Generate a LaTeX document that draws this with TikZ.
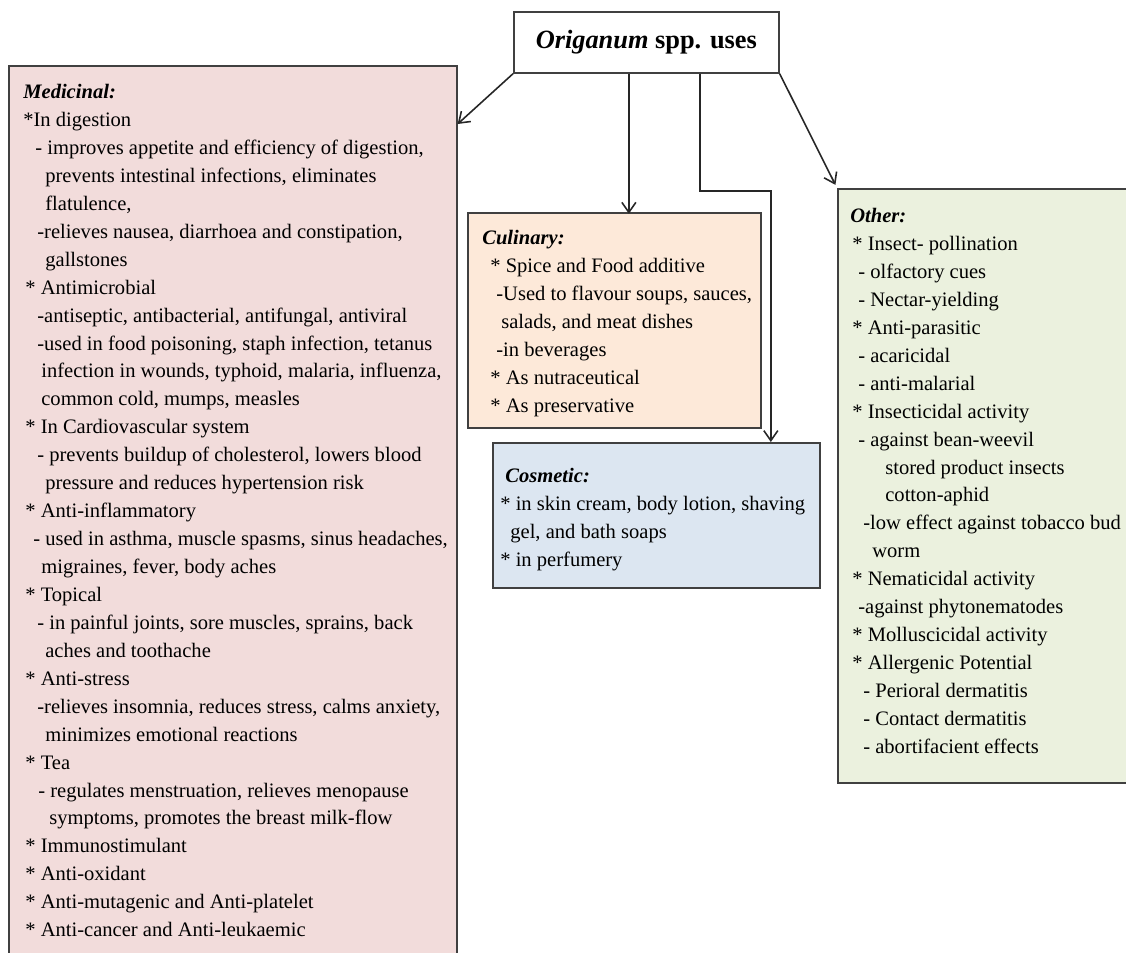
\documentclass[tikz,border=0pt]{standalone}
\usepackage{fontspec}
\setmainfont{Liberation Serif}
\usepackage{xcolor}
\usetikzlibrary{arrows.meta,positioning}
\definecolor{medfill}{HTML}{F2DCDB}
\definecolor{culfill}{HTML}{FDE9D9}
\definecolor{cosfill}{HTML}{DCE6F1}
\definecolor{othfill}{HTML}{EBF1DE}
\newlength\pxl
\setlength\pxl{0.02cm}
\newcommand{\ind}[1]{\hspace*{#1\pxl}}
\tikzset{
  basic/.style  = {draw=black!75, line width=1pt, rectangle, anchor=north west, inner sep=0pt},
  rootbox/.style = {basic, fill=white, font=\fontsize{15}{18}\selectfont\bfseries},
  medbox/.style = {basic, fill=medfill},
  culbox/.style = {basic, fill=culfill},
  cosbox/.style = {basic, fill=cosfill},
  othbox/.style = {basic, fill=othfill},
  txt/.style    = {anchor=north west, inner sep=0pt, align=left,
                   font=\fontsize{11.7}{15.9}\selectfont},
  arr/.style    = {->, draw=black!85, line width=0.9pt}
}

\begin{document}
\begin{tikzpicture}[x=0.02cm, y=-0.02cm,
  >={Straight Barb[length=2mm,width=2.8mm]}]
\useasboundingbox (0,0) rectangle (1126,953);

% root and the four boxes
\node[rootbox, minimum width=5.3cm, minimum height=1.22cm] (title) at (513,11)
  {\textit{Origanum} spp. uses};
\node[medbox, minimum width=8.96cm, minimum height=18.2cm] (med) at (8,65) {};
\node[culbox, minimum width=5.86cm, minimum height=4.3cm] (cul) at (467,212) {};
\node[cosbox, minimum width=6.54cm, minimum height=2.9cm] (cos) at (492,442) {};
\node[othbox, minimum width=6.2cm, minimum height=11.88cm] (oth) at (837,188) {};

% texts inside the boxes
\node[txt] (medtxt) at (23,84) {%
\textbf{\textit{Medicinal:}}\\
*In digestion\\
\ind{12}- improves appetite and efficiency of digestion,\\
\ind{22}prevents intestinal infections, eliminates\\
\ind{22}flatulence,\\
\ind{14}-relieves nausea, diarrhoea and constipation,\\
\ind{22}gallstones\\
\ind{2}* Antimicrobial\\
\ind{14}-antiseptic, antibacterial, antifungal, antiviral\\
\ind{14}-used in food poisoning, staph infection, tetanus\\
\ind{18}infection in wounds, typhoid, malaria, influenza,\\
\ind{18}common cold, mumps, measles\\
\ind{2}* In Cardiovascular system\\
\ind{14}- prevents buildup of cholesterol, lowers blood\\
\ind{22}pressure and reduces hypertension risk\\
\ind{2}* Anti-inflammatory\\
\ind{10}- used in asthma, muscle spasms, sinus headaches,\\
\ind{18}migraines, fever, body aches\\
\ind{2}* Topical\\
\ind{14}- in painful joints, sore muscles, sprains, back\\
\ind{22}aches and toothache\\
\ind{2}* Anti-stress\\
\ind{14}-relieves insomnia, reduces stress, calms anxiety,\\
\ind{22}minimizes emotional reactions\\
\ind{2}* Tea\\
\ind{15}- regulates menstruation, relieves menopause\\
\ind{26}symptoms, promotes the breast milk-flow\\
\ind{2}* Immunostimulant\\
\ind{2}* Anti-oxidant\\
\ind{2}* Anti-mutagenic and Anti-platelet\\
\ind{2}* Anti-cancer and Anti-leukaemic};

\node[txt] (cultxt) at (482,230) {%
\textbf{\textit{Culinary:}}\\
\ind{8}* Spice and Food additive\\
\ind{14}-Used to flavour soups, sauces,\\
\ind{19}salads, and meat dishes\\
\ind{14}-in beverages\\
\ind{8}* As nutraceutical\\
\ind{8}* As preservative};

\node[txt] (costxt) at (500,468) {%
\ind{5}\textbf{\textit{Cosmetic:}}\\
* in skin cream, body lotion, shaving\\
\ind{10}gel, and bath soaps\\
* in perfumery};

\node[txt] (othtxt) at (850,208) {%
\textbf{\textit{Other:}}\\
\ind{2}* Insect- pollination\\
\ind{8}- olfactory cues\\
\ind{8}- Nectar-yielding\\
\ind{2}* Anti-parasitic\\
\ind{8}- acaricidal\\
\ind{8}- anti-malarial\\
\ind{2}* Insecticidal activity\\
\ind{8}- against bean-weevil\\
\ind{35}stored product insects\\
\ind{35}cotton-aphid\\
\ind{13}-low effect against tobacco bud\\
\ind{22}worm\\
\ind{2}* Nematicidal activity\\
\ind{8}-against phytonematodes\\
\ind{2}* Molluscicidal activity\\
\ind{2}* Allergenic Potential\\
\ind{13}- Perioral dermatitis\\
\ind{13}- Contact dermatitis\\
\ind{13}- abortifacient effects};

% connectors
\draw[arr] (title.south west) -- ([yshift=-1.18cm]med.north east);
\draw[arr] ([xshift=-0.35cm]title.south) -- ++(0,140);
\draw[arr] ([xshift=1.07cm]title.south) -- ++(0,117) -| ([xshift=2.29cm]cos.north);
\draw[arr, shorten >=2pt] (title.south east) -- (oth.north west);

\end{tikzpicture}
\end{document}
